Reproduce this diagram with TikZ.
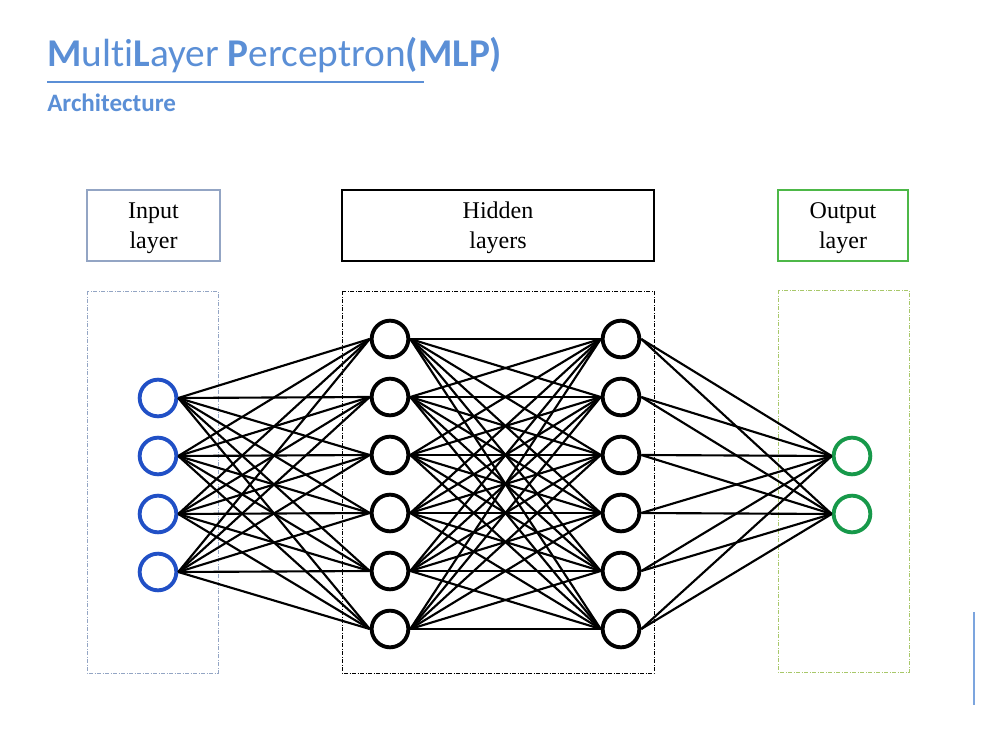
\documentclass[tikz,border=0pt]{standalone}
\usepackage{fontspec}
\setmainfont{Liberation Serif}
\newfontfamily\titlefont[Ligatures={NoCommon}]{Carlito}
\begin{document}
\begin{tikzpicture}[x=0.75pt,y=-0.75pt,
  neuron/.style={circle,draw,line width=2.9pt,minimum size=27.5pt,inner sep=0pt},
  inneuron/.style={neuron,draw=inblue},
  hidneuron/.style={neuron,draw=black},
  outneuron/.style={neuron,draw=outgreen},
  conn/.style={line width=1.6pt,black},
  labelbox/.style={draw,line width=0.8pt,inner sep=0pt,align=center,font=\fontsize{18}{22.5}\selectfont},
  groupbox/.style={line width=0.7pt,dash pattern=on 3pt off 1.2pt on 0.6pt off 1.2pt},
]
\definecolor{titleblue}{HTML}{5B8FD6}
\definecolor{inblue}{HTML}{2150C6}
\definecolor{outgreen}{HTML}{17994A}
\definecolor{inbox}{HTML}{93A5C4}
\definecolor{outbox}{HTML}{4DB848}
\definecolor{outdash}{HTML}{A8C86A}
\useasboundingbox (0,0) rectangle (1008,756);

% title
\node[anchor=base west,inner sep=0pt,text=titleblue,font=\titlefont\fontsize{29.5}{36}\selectfont] (title) at (47,67)
  {\textbf{M}ulti\textbf{L}ayer \textbf{P}erceptron\textbf{(MLP)}};
\draw[titleblue,line width=1.1pt] (47,82) -- (424,82);
\node[anchor=base west,inner sep=0pt,text=titleblue,font=\titlefont\bfseries\fontsize{18.8}{22}\selectfont] (sub) at (47,112) {Architecture};
\draw[titleblue!80,line width=1.2pt] (974,612) -- (974,705);

% label boxes
\node[labelbox,draw=inbox,minimum width=99.75pt,minimum height=53.25pt] (lin) at (153.5,225.5) {};
\node[labelbox,draw=black,minimum width=234pt,minimum height=53.25pt] (lhid) at (498,225.5) {};
\node[labelbox,draw=outbox,minimum width=97.5pt,minimum height=53.25pt] (lout) at (843,225.5) {};
\node[labelbox,draw=none] (tin) at (153.5,228) {Input\\layer};
\node[labelbox,draw=none] (thid) at (498,228) {Hidden\\layers};
\node[labelbox,draw=none] (tout) at (843,228) {Output\\layer};

% group boxes
\draw[groupbox,draw=inbox] (87,291) rectangle (218,673);
\draw[groupbox,draw=black] (342,291) rectangle (654,673);
\draw[groupbox,draw=outdash] (778,290) rectangle (909,672);

% neurons
\foreach \i/\y in {1/398,2/456,3/514,4/572} \node[inneuron] (i\i) at (158,\y) {};
\foreach \i/\y in {1/339,2/397,3/455,4/513,5/571,6/629} \node[hidneuron] (a\i) at (390,\y) {};
\foreach \i/\y in {1/339,2/397,3/455,4/513,5/571,6/629} \node[hidneuron] (b\i) at (621,\y) {};
\foreach \i/\y in {1/456,2/514} \node[outneuron] (o\i) at (852,\y) {};

% connections
\foreach \s in {1,...,4} \foreach \t in {1,...,6} \draw[conn] (i\s.east) -- (a\t.west);
\foreach \s in {1,...,6} \foreach \t in {1,...,6} \draw[conn] (a\s.east) -- (b\t.west);
\foreach \s in {1,...,6} \foreach \t in {1,2} \draw[conn] (b\s.east) -- (o\t.west);
\end{tikzpicture}
\end{document}
